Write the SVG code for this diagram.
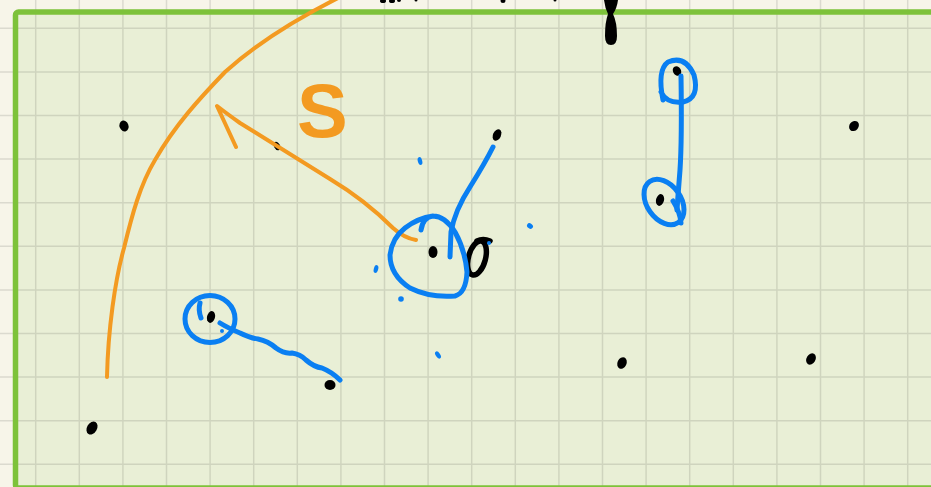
<svg xmlns="http://www.w3.org/2000/svg" width="931" height="487" viewBox="0 0 931 487">
<style>
.grid{stroke:#000;stroke-opacity:0.11;stroke-width:1.5;fill:none}
.blue{stroke:#0a7ff2;stroke-width:5;fill:none;stroke-linecap:round;stroke-linejoin:round}
.bdot{fill:#0a7ff2}
.orange{stroke:#f39a21;stroke-width:4;fill:none;stroke-linecap:round;stroke-linejoin:round}
.dot{fill:#000}
.ink{stroke:#000;stroke-width:5.5;fill:none;stroke-linecap:round}
</style>
<rect width="931" height="487" fill="#f7f5e9"/>
<rect x="15.5" y="12" width="940" height="476" rx="3" fill="#e9efd6"/>
<path class="grid" d="M35.7,0V487M79.3,0V487M122.9,0V487M166.5,0V487M210.1,0V487M253.7,0V487M297.3,0V487M340.9,0V487M384.5,0V487M428.1,0V487M471.7,0V487M515.3,0V487M558.9,0V487M602.5,0V487M646.1,0V487M689.7,0V487M733.3,0V487M776.9,0V487M820.5,0V487M864.1,0V487M907.7,0V487M0,28.3H931M0,71.9H931M0,115.5H931M0,159.1H931M0,202.7H931M0,246.3H931M0,289.9H931M0,333.5H931M0,377.1H931M0,420.7H931M0,464.3H931"/>
<rect x="15.5" y="12" width="940" height="476" rx="3" fill="none" stroke="#7dc23a" stroke-width="5.5"/>
<g id="top-marks">
<ellipse class="dot" cx="383" cy="1" rx="3" ry="2"/>
<ellipse class="dot" cx="392" cy="1" rx="3" ry="2"/>
<ellipse class="dot" cx="399" cy="0" rx="2" ry="2"/>
<ellipse class="dot" cx="416" cy="0" rx="1.5" ry="1.5"/>
<ellipse class="dot" cx="503" cy="1" rx="2.5" ry="2"/>
<ellipse class="dot" cx="555" cy="0" rx="1.5" ry="1.5"/>
<path class="dot" d="M604,0 L618,0 Q617,8 613,14 Q617,22 617,36 Q617,45 611,45 Q605,45 605,36 Q605,22 608,14 Q605,8 604,0 Z"/>
</g>
<g id="points">
<ellipse class="dot" cx="124" cy="126" rx="4.5" ry="5.5" transform="rotate(-20 124 126)"/>
<ellipse class="dot" cx="277" cy="146" rx="3" ry="4.5" transform="rotate(-30 277 146)"/>
<ellipse class="dot" cx="497" cy="135" rx="4" ry="6" transform="rotate(25 497 135)"/>
<ellipse class="dot" cx="854" cy="126" rx="4.5" ry="5.5" transform="rotate(40 854 126)"/>
<ellipse class="dot" cx="433" cy="252" rx="4.5" ry="6"/>
<ellipse class="dot" cx="677" cy="71" rx="4" ry="5" transform="rotate(-30 677 71)"/>
<ellipse class="dot" cx="660" cy="200" rx="4" ry="6" transform="rotate(15 660 200)"/>
<ellipse class="dot" cx="211" cy="317" rx="4" ry="6" transform="rotate(15 211 317)"/>
<ellipse class="dot" cx="330" cy="385" rx="5.5" ry="5"/>
<ellipse class="dot" cx="622" cy="363" rx="4.5" ry="6" transform="rotate(25 622 363)"/>
<ellipse class="dot" cx="811" cy="359" rx="4.5" ry="6" transform="rotate(30 811 359)"/>
<ellipse class="dot" cx="92" cy="428" rx="5" ry="7" transform="rotate(30 92 428)"/>
</g>
<g id="zero">
<ellipse class="ink" cx="477" cy="258" rx="8.5" ry="17.5" transform="rotate(15 477 258)"/>
<path class="ink" d="M477,241 Q483,238 490,241" stroke-width="4"/>
</g>
<g id="orange">
<path class="orange" d="M107,377 C108,330 115,280 124,248 C132,215 140,185 155,160 C175,125 200,98 225,72 C255,45 290,22 340,-3"/>
<path class="orange" d="M236,147 L217,106 Q226,113 240,123 L330,179 Q365,200 393,228 Q404,238 416,240"/>
<text x="297" y="137" font-family="Liberation Sans, Arial, sans-serif" font-size="76" font-weight="bold" fill="#f39a21">S</text>
</g>
<g id="blue-center">
<path class="blue" d="M421,230 Q423,217 433,216 Q445,216 455,232 Q465,250 467,272 Q466,293 455,296 Q430,298 410,288 Q390,275 390,255 Q392,238 405,228 Q418,218 433,216"/>
<path class="blue" d="M450,257 L451,232 Q455,210 470,187 Q485,163 493,147"/>
<ellipse class="bdot" cx="420" cy="161" rx="2.2" ry="4" transform="rotate(-15 420 161)"/>
<ellipse class="bdot" cx="376" cy="269" rx="2.2" ry="4" transform="rotate(15 376 269)"/>
<circle class="bdot" cx="401" cy="299" r="2.8"/>
<ellipse class="bdot" cx="530" cy="226" rx="3.2" ry="2.5" transform="rotate(35 530 226)"/>
<ellipse class="bdot" cx="438" cy="355" rx="2.2" ry="4" transform="rotate(-35 438 355)"/>
<circle class="bdot" cx="489" cy="243" r="2"/>
</g>
<g id="blue-right">
<path class="blue" d="M663,100 Q657,70 668,62 Q685,55 694,75 Q700,98 683,102 Q667,104 661,92"/>
<path class="blue" d="M681,76 Q682,140 680,170 Q678,195 677,210"/>
<ellipse class="blue" cx="664" cy="202" rx="17" ry="25" transform="rotate(-35 664 202)"/>
<path class="blue" d="M673,201 Q680,212 681,223"/>
</g>
<g id="blue-left">
<ellipse class="blue" cx="210" cy="319" rx="25" ry="23.5"/>
<path class="blue" d="M200,303 Q198,310 201,318"/>
<path class="blue" d="M220,323 Q228,328 240,333 Q250,338 258,339 Q268,341 276,348 Q284,354 292,353 Q300,354 306,360 Q314,367 322,368 Q332,372 340,380"/>
<circle class="bdot" cx="222" cy="331" r="2"/>
</g>
</svg>
